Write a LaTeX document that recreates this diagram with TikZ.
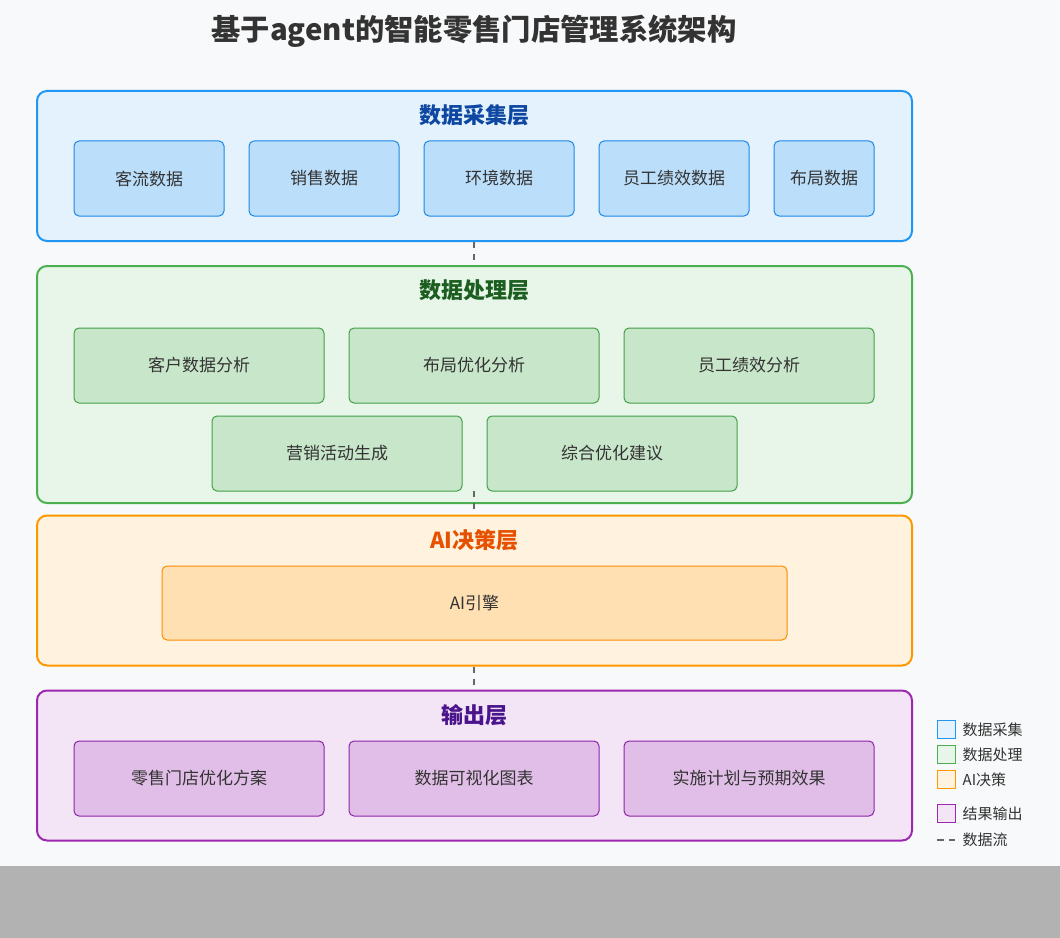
\documentclass[tikz,border=0pt]{standalone}
\usepackage{fontspec}
\setmainfont{Noto Sans CJK SC}
\definecolor{pagebg}{HTML}{F8F9FA}
\definecolor{txt}{HTML}{333333}
\definecolor{bluefill}{HTML}{E3F2FD}
\definecolor{bluedraw}{HTML}{2196F3}
\definecolor{blueboxfill}{HTML}{BBDEFB}
\definecolor{blueboxdraw}{HTML}{1E88E5}
\definecolor{bluetitle}{HTML}{0D47A1}
\definecolor{greenfill}{HTML}{E8F5E9}
\definecolor{greendraw}{HTML}{4CAF50}
\definecolor{greenboxfill}{HTML}{C8E6C9}
\definecolor{greenboxdraw}{HTML}{43A047}
\definecolor{greentitle}{HTML}{1B5E20}
\definecolor{orangefill}{HTML}{FFF3E0}
\definecolor{orangedraw}{HTML}{FF9800}
\definecolor{orangeboxfill}{HTML}{FFE0B2}
\definecolor{orangeboxdraw}{HTML}{FB8C00}
\definecolor{orangetitle}{HTML}{E65100}
\definecolor{purplefill}{HTML}{F3E5F5}
\definecolor{purpledraw}{HTML}{9C27B0}
\definecolor{purpleboxfill}{HTML}{E1BEE7}
\definecolor{purpleboxdraw}{HTML}{8E24AA}
\definecolor{purpletitle}{HTML}{4A148C}
\definecolor{flow}{HTML}{666666}
\tikzset{
  layer/.style={draw=#1draw, fill=#1fill, line width=1.5pt, rounded corners=7.5pt,
    minimum width=656.25pt, inner sep=0pt},
  layertitle/.style={text=#1title, font=\fontsize{16.5}{19}\selectfont\bfseries},
  box/.style={draw=#1boxdraw, fill=#1boxfill, line width=0.75pt, rounded corners=3.75pt,
    minimum height=56.25pt, inner sep=0pt, text=txt, font=\fontsize{12.75}{15}\selectfont},
  flowline/.style={draw=flow, line width=1.5pt, dash pattern=on 4.5pt off 4.5pt},
  legendbox/.style={draw=#1draw, fill=#1fill, line width=0.75pt, minimum size=13.5pt, inner sep=0pt},
  legendtext/.style={text=txt, font=\fontsize{11.25}{13}\selectfont, anchor=west},
}
\begin{document}
\begin{tikzpicture}[x=0.75pt, y=-0.75pt]
    % Page
    \useasboundingbox (0,0) rectangle (1060,938);
    \fill[pagebg] (0,0) rectangle (1060,866);
    \fill[black!30] (0,866) rectangle (1060,938);

    % Title
    \node[text=txt, font=\fontsize{22}{26}\selectfont\bfseries] (title) at (474,31)
        {基于agent的智能零售门店管理系统架构};

    % Layers
    \node[layer=blue, minimum height=112.5pt] (collect) at (474.5,166) {};
    \node[layer=green, minimum height=177.75pt] (process) at (474.5,384.5) {};
    \node[layer=orange, minimum height=112.5pt] (decide) at (474.5,590.5) {};
    \node[layer=purple, minimum height=112.5pt] (output) at (474.5,765.5) {};

    % Layer titles
    \node[layertitle=blue] (collecttitle) at (474.5,115) {数据采集层};
    \node[layertitle=green] (processtitle) at (474.5,290) {数据处理层};
    \node[layertitle=orange] (decidetitle) at (474.5,540) {AI决策层};
    \node[layertitle=purple] (outputtitle) at (474.5,715) {输出层};

    % Data collection
    \node[box=blue, minimum width=112.5pt] (traffic) at (149,178.5) {客流数据};
    \node[box=blue, minimum width=112.5pt] (sales) at (324,178.5) {销售数据};
    \node[box=blue, minimum width=112.5pt] (environ) at (499,178.5) {环境数据};
    \node[box=blue, minimum width=112.5pt] (staff) at (674,178.5) {员工绩效数据};
    \node[box=blue, minimum width=75pt] (layout) at (824,178.5) {布局数据};

    % Data processing
    \node[box=green, minimum width=187.5pt] (custana) at (199,365.5) {客户数据分析};
    \node[box=green, minimum width=187.5pt] (layoutana) at (474,365.5) {布局优化分析};
    \node[box=green, minimum width=187.5pt] (staffana) at (749,365.5) {员工绩效分析};
    \node[box=green, minimum width=187.5pt] (promo) at (337,453.5) {营销活动生成};
    \node[box=green, minimum width=187.5pt] (advice) at (612,453.5) {综合优化建议};

    % AI decision
    \node[box=orange, minimum width=468.75pt, minimum height=55.5pt] (engine) at (474.5,603) {AI引擎};

    % Output
    \node[box=purple, minimum width=187.5pt] (plan) at (199,778.5) {零售门店优化方案};
    \node[box=purple, minimum width=187.5pt] (charts) at (474,778.5) {数据可视化图表};
    \node[box=purple, minimum width=187.5pt] (effect) at (749,778.5) {实施计划与预期效果};

    % Data flow
    \coordinate (procout) at (474,491);
    \draw[flowline] (collect.south -| procout) -- (process.north -| procout);
    \draw[flowline] (procout) -- (decide.north -| procout);
    \draw[flowline] (decide.south -| procout) -- (output.north -| procout);

    % Legend
    \node[legendbox=blue] (keycollect) at (946,729) {};
    \node[legendbox=green] (keyprocess) at (946,754) {};
    \node[legendbox=orange] (keydecide) at (946,779) {};
    \node[legendbox=purple] (keyoutput) at (946,813) {};
    \coordinate (keyflow) at (937,840);
    \draw[flowline, dash pattern=on 5pt off 4pt] (keyflow) -- ++(18,0) coordinate (keyflowend);
    \node[legendtext] (keycollecttext) at (958,730) {数据采集};
    \node[legendtext] (keyprocesstext) at (958,755) {数据处理};
    \node[legendtext] (keydecidetext) at (958,780) {AI决策};
    \node[legendtext] (keyoutputtext) at (958,814) {结果输出};
    \node[legendtext] (keyflowtext) at (958,840) {数据流};
\end{tikzpicture}
\end{document}
